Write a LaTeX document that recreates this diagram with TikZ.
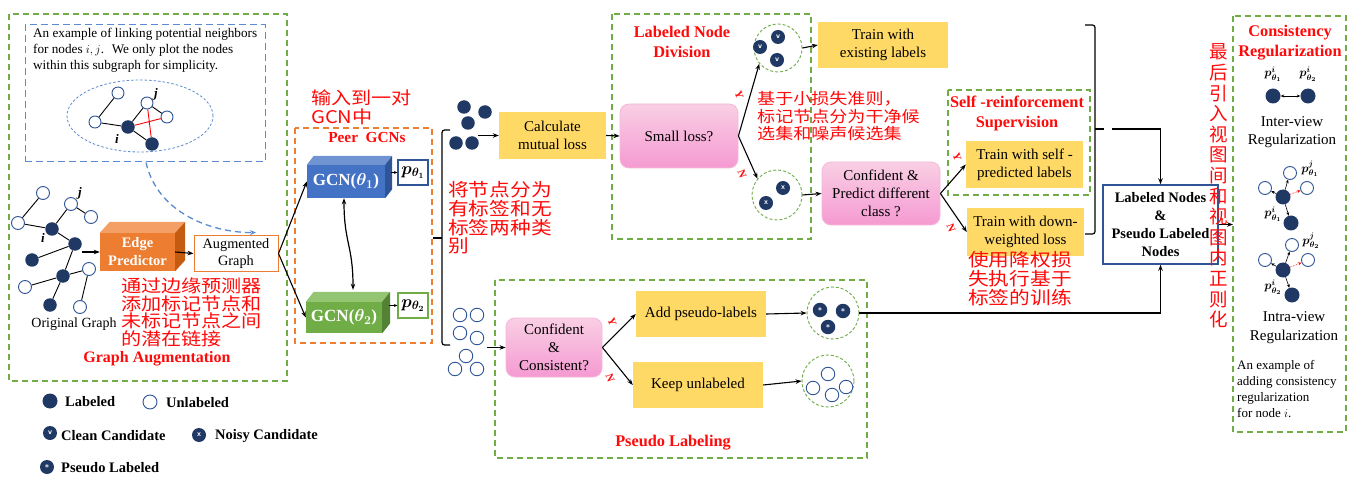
\documentclass[tikz,border=0pt]{standalone}
\usepackage{fontspec}
\setmainfont{Liberation Serif}
\newfontfamily\cjk[FakeStretch=1.15]{Noto Sans CJK SC}
\newfontfamily\cjkv{Noto Sans CJK SC}
\usepackage{amsmath}
\usepackage{bm}
\usetikzlibrary{arrows.meta,calc}
\newcommand{\fs}[2]{\fontsize{#1}{#2}\selectfont}
\newcommand{\cnf}[2]{\cjk\fontsize{#1}{#2}\selectfont\lineskiplimit=-50pt\lineskip=0pt}
\definecolor{grn}{HTML}{70AD47}
\definecolor{navy}{HTML}{203864}
\definecolor{blueE}{HTML}{2F5597}
\definecolor{ylw}{HTML}{FFD966}
\definecolor{pinkT}{HTML}{F9CFE4}
\definecolor{pinkB}{HTML}{F59AD2}
\definecolor{pinkE}{HTML}{F5B8D8}
\definecolor{orF}{HTML}{ED7D31}
\definecolor{orT}{HTML}{F39F66}
\definecolor{orS}{HTML}{C55A11}
\definecolor{bF}{HTML}{4472C4}
\definecolor{bT}{HTML}{7093D2}
\definecolor{bS}{HTML}{2F5597}
\definecolor{gF}{HTML}{70AD47}
\definecolor{gT}{HTML}{93C572}
\definecolor{gS}{HTML}{548235}
\definecolor{dashB}{HTML}{5B8BD0}
\definecolor{redt}{HTML}{FF0A0A}
\begin{document}
\begin{tikzpicture}[x=1pt,y=-1pt,
  gbox/.style={draw=grn, dash pattern=on 6pt off 4pt, line width=1.3pt},
  ybox/.style={fill=ylw, align=center, inner sep=0, font=\fs{15}{18}},
  pkbox/.style={rounded corners=9pt, top color=pinkT, bottom color=pinkB, draw=pinkE, line width=0.8pt, align=center, inner sep=0, font=\fs{15}{18}},
  lnode/.style={circle, fill=navy, inner sep=0, minimum size=13.5pt},
  unode/.style={circle, draw=blueE, fill=white, line width=0.9pt, inner sep=0, minimum size=13pt},
  cnode/.style={circle, fill=navy, inner sep=0, minimum size=14pt, text=white, font=\sffamily\bfseries\fs{8}{9}},
  dcirc/.style={circle, draw=grn, dash pattern=on 3pt off 2pt, line width=0.9pt, inner sep=0},
  arr/.style={-{Stealth[length=6pt,width=4.5pt]}, line width=1.1pt},
  sarr/.style={-{Stealth[length=3.5pt,width=3pt]}, line width=0.6pt},
  edge/.style={line width=0.9pt},
  ttl/.style={text=redt, font=\bfseries\fs{16.3}{20}, align=center, inner sep=0},
  cn/.style={text=redt, align=left, inner sep=0},
  lbl/.style={font=\bfseries\fs{14.5}{16}, anchor=west, inner sep=0},
  txt/.style={align=center, inner sep=0, font=\fs{15}{18}},
  plab/.style={font=\fs{12}{14}, inner sep=0},
  yn/.style={text=redt, font=\bfseries\fs{11}{12}, inner sep=0, rotate=-70}]
\useasboundingbox[fill=white] (0,0) rectangle (1351,478);

% ===== Graph Augmentation =====
\draw[gbox] (9,14) rectangle (287,381);
\node[draw=dashB, dash pattern=on 7pt off 4pt, line width=1pt, minimum width=240pt, minimum height=137pt, inner sep=0] (exbox) at (145,93.5) {};
\node[anchor=west, align=left, font=\fs{13.2}{16}, inner sep=0] (extxt) at (33,50) {An example of linking potential neighbors\\for nodes $i,j$.~ We only plot the nodes\\within this subgraph for simplicity.};
\draw[dashB, dash pattern=on 2.5pt off 2pt, line width=0.8pt] (140,116) ellipse [x radius=73pt, y radius=36pt];
\node[unode, minimum size=12pt] (e1) at (118,93) {};
\node[unode, minimum size=12pt] (e2) at (95,122) {};
\node[lnode] (e3) at (128,127) {};
\node[unode, minimum size=12pt] (e4) at (147,103) {};
\node[unode, minimum size=12pt] (e5) at (167,117) {};
\node[lnode] (e6) at (152,144) {};
\draw[edge] (e1)--(e2) (e2)--(e3) (e3)--(e4) (e4)--(e5) (e3)--(e6);
\draw[edge, red] (e3)--(e5) (e4)--(e6);
\node[font=\bfseries\itshape\fs{13}{14}, inner sep=0] (li1) at (117,139) {i};
\node[font=\bfseries\itshape\fs{13}{14}, inner sep=0] (lj1) at (156,94) {j};

\node[unode] (o1) at (43,193) {};
\node[unode] (o2) at (71,204) {};
\node[unode] (o3) at (91,217) {};
\node[unode] (o4) at (18,223) {};
\node[lnode] (f1) at (52,229) {};
\node[lnode] (f2) at (75,244) {};
\node[lnode] (f3) at (32,260) {};
\node[lnode] (f4) at (63,276) {};
\node[unode] (o5) at (89,269) {};
\node[unode] (o6) at (25,287) {};
\node[lnode] (f5) at (50,305) {};
\node[unode] (o7) at (80,307) {};
\draw[edge] (o1)--(o4) (o4)--(f1) (f1)--(o2) (o2)--(o3) (f1)--(f2) (f2)--(f3) (f2)--(f4) (f4)--(o5) (f4)--(o6) (f4)--(f5) (o5)--(o7);
\node[font=\bfseries\itshape\fs{13}{14}, inner sep=0] (li2) at (43,238) {i};
\node[font=\bfseries\itshape\fs{13}{14}, inner sep=0] (lj2) at (80,193) {j};
\node[font=\fs{14}{16}, inner sep=0] (og) at (74,324) {Original Graph};

% Edge predictor cuboid
\node[fill=orF, minimum width=75pt, minimum height=38pt, inner sep=0, text=white, align=center, font=\bfseries\fs{14.5}{18}] (ep) at (137.5,252) {Edge\\Predictor};
\fill[orT] (ep.north west) -- ++(10,-11) -- ([shift={(10,-11)}]ep.north east) -- (ep.north east) -- cycle;
\fill[orS] (ep.north east) -- ++(10,-11) -- ([shift={(10,-11)}]ep.south east) -- (ep.south east) -- cycle;
\node[draw=orF, line width=1pt, fill=white, minimum width=84pt, minimum height=35pt, inner sep=0, align=center, font=\fs{14.3}{17}] (aug) at (236,253.5) {Augmented\\Graph};
\draw[arr] (f2.east |- ep.west) -- (ep.west);
\draw[arr] (ep.east) -- (aug.west);
\draw[dashB, dash pattern=on 6pt off 4pt, line width=1.3pt, -{Stealth[length=6pt,width=5pt]}] ([xshift=1pt]exbox.south) .. controls (158,215) and (215,233) .. ([shift={(20,-3)}]aug.north);

\node[text=redt, font=\bfseries\fs{16}{18}, inner sep=0] (tga) at (157,359) {Graph Augmentation};

% ===== Peer GCNs =====
\draw[draw=orF, dash pattern=on 6pt off 4pt, line width=1.3pt] (295,128) rectangle (432,343);
\node[text=redt, font=\bfseries\fs{15.3}{18}, inner sep=0] (tpg) at (367,138) {Peer~~GCNs};
\node[fill=bF, minimum width=78pt, minimum height=33pt, inner sep=0, text=white, font=\bfseries\fs{17}{19}] (g1) at (346,181.5) {GCN($\bm{\theta_1}$)};
\fill[bT] (g1.north west) -- ++(7,-9) -- ([shift={(7,-9)}]g1.north east) -- (g1.north east) -- cycle;
\fill[bS] (g1.north east) -- ++(7,-9) -- ([shift={(7,-9)}]g1.south east) -- (g1.south east) -- cycle;
\node[fill=gF, minimum width=76pt, minimum height=31pt, inner sep=0, text=white, font=\bfseries\fs{17}{19}] (g2) at (344,317.5) {GCN($\bm{\theta_2}$)};
\fill[gT] (g2.north west) -- ++(8,-10) -- ([shift={(8,-10)}]g2.north east) -- (g2.north east) -- cycle;
\fill[gS] (g2.north east) -- ++(8,-10) -- ([shift={(8,-10)}]g2.south east) -- (g2.south east) -- cycle;
\node[draw=blueE, line width=1.3pt, fill=white, minimum width=30pt, minimum height=25pt, inner sep=0, font=\fs{16.5}{18}] (pt1) at (413,172.5) {$\bm{p_{\theta_1}}$};
\node[draw=grn, line width=1.3pt, fill=white, minimum width=30pt, minimum height=25pt, inner sep=0, font=\fs{16.5}{18}] (pt2) at (413,305.5) {$\bm{p_{\theta_2}}$};
\draw[sarr, line width=0.8pt] ([xshift=6pt]g1.east |- pt1.west) -- (pt1.west);
\draw[sarr, line width=0.8pt] ([xshift=7pt]g2.east |- pt2.west) -- (pt2.west);
\draw[{Stealth[length=6pt,width=4.5pt]}-{Stealth[length=6pt,width=4.5pt]}, line width=1.2pt] ([xshift=-2pt]g1.south) .. controls +(0,45) and +(0,-45) .. ([shift={(9,-12)}]g2.north);
\draw[arr] (aug.east) -- (g1.west);
\draw[arr] (aug.east) -- (g2.west);

% left brace
\draw[line width=1.2pt, rounded corners=2.5pt] (450,130) -- (442,130) -- (442,345) -- (450,345);
\draw[line width=1.2pt] (442,238) -- (433,238);

% labeled cluster
\node[lnode] (c1) at (464,107) {};
\node[lnode] (c2) at (485,112) {};
\node[lnode] (c3) at (468,123) {};
\node[lnode] (c4) at (456,143) {};
\node[lnode] (c5) at (472,143) {};
% unlabeled cluster
\node[unode, minimum size=13.5pt] (u1) at (460,315) {};
\node[unode, minimum size=13.5pt] (u2) at (477,315) {};
\node[unode, minimum size=13.5pt] (u3) at (460,333) {};
\node[unode, minimum size=13.5pt] (u4) at (477,338) {};
\node[unode, minimum size=13.5pt] (u5) at (466,356) {};
\node[unode, minimum size=13.5pt] (u6) at (455,369) {};
\node[unode, minimum size=13.5pt] (u7) at (477,369) {};

\node[ybox, minimum width=107pt, minimum height=47pt] (calc) at (552.5,135.5) {Calculate\\mutual loss};
\draw[arr] ([xshift=-21pt]calc.west) -- (calc.west);

% ===== Labeled Node Division =====
\draw[gbox] (612,14) rectangle (811,239);
\node[ttl] (tlnd) at (682,42) {Labeled Node\\Division};
\node[pkbox, minimum width=118pt, minimum height=64pt] (small) at (679,136) {Small loss?};
\draw[arr] (calc.east) -- (small.west);
\node[dcirc, minimum size=48pt] (cc) at (778,48) {};
\node[cnode] (k1) at (778,37) {v};
\node[cnode] (k2) at (777,60) {v};
\node[cnode] (k3) at (760,47) {v};
\node[dcirc, minimum size=50pt] (nc) at (777,195) {};
\node[cnode] (n1) at (783,188) {x};
\node[cnode] (n2) at (766,203) {x};
\draw[arr] (small.east) -- (cc.-140);
\draw[arr] (small.east) -- (nc.140);
\node[yn] (y1) at (739,95) {Y};
\node[yn] (n1l) at (742,174) {N};
\node[ybox, minimum width=130pt, minimum height=46pt] (tr1) at (883,45) {Train with\\existing labels};
\draw[arr] (cc.east) -- (tr1.west);
\node[pkbox, minimum width=118pt, minimum height=63pt] (conf1) at (881,193.5) {Confident \&\\Predict different\\class ?};
\draw[arr] (nc.east) -- (conf1.west);

% ===== Self-reinforcement =====
\draw[gbox] (948,90) rectangle (1090,195);
\node[ttl] (tsrs) at (1017,113) {Self -reinforcement\\Supervision};
\node[ybox, minimum width=117pt, minimum height=47pt] (tr2) at (1024.5,164.5) {Train with self -\\predicted labels};
\node[ybox, minimum width=117pt, minimum height=48pt] (tr3) at (1025.5,232) {Train with down-\\weighted loss};
\draw[arr] (conf1.east) -- (tr2.west);
\draw[arr] (conf1.east) -- (tr3.west);
\node[yn] (y2) at (957,157) {Y};
\node[yn] (n2l) at (951,228) {N};

% right brace
\draw[line width=1.2pt, rounded corners=2.5pt] (1085,25) -- (1095,25) -- (1095,234) -- (1085,234);
\draw[line width=1.2pt] (1095,129) -- (1104,129);
\coordinate (rb) at (1112,129);

\node[draw=blueE, line width=1.5pt, fill=white, minimum width=115pt, minimum height=79pt, align=center, font=\bfseries\fs{14.5}{18}, inner sep=0] (lnb) at (1160.5,224.5) {Labeled Nodes\\\&\\Pseudo Labeled\\Nodes};
\draw[arr] (rb) -| (lnb.north);

% ===== Pseudo Labeling =====
\draw[gbox] (495,280) rectangle (867,458);
\node[text=redt, font=\bfseries\fs{16.3}{18}, inner sep=0] (tpl) at (673,443) {Pseudo Labeling};
\node[pkbox, minimum width=96pt, minimum height=59pt] (conf2) at (554,347.5) {Confident\\\&\\Consistent?};
\draw[arr] ([xshift=-19pt]conf2.west) -- (conf2.west);
\node[ybox, minimum width=130pt, minimum height=46pt] (add) at (701,314) {Add pseudo-labels};
\node[ybox, minimum width=130pt, minimum height=46pt] (keep) at (698,385) {Keep unlabeled};
\draw[arr] (conf2.east) -- (add.west);
\draw[arr] (conf2.east) -- (keep.west);
\node[yn] (y3) at (612,322) {Y};
\node[yn] (n3l) at (610,378) {N};
\node[dcirc, minimum size=52pt] (pc) at (833,313) {};
\node[cnode, minimum size=14.5pt] (s1) at (820,310) {*};
\node[cnode, minimum size=14.5pt] (s2) at (843,311) {*};
\node[cnode, minimum size=14.5pt] (s3) at (828,327) {*};
\node[dcirc, minimum size=52pt] (uc) at (828,381) {};
\node[unode, minimum size=13.5pt] (w1) at (828,374) {};
\node[unode, minimum size=13.5pt] (w2) at (813,388) {};
\node[unode, minimum size=13.5pt] (w3) at (832,395) {};
\node[unode, minimum size=13.5pt] (w4) at (846,387) {};
\draw[arr] (add.east) -- (pc.west);
\draw[arr] (keep.east) -- (uc.west);
\draw[arr] (pc.east) -| (lnb.south);

% ===== Consistency Regularization =====
\draw[gbox] (1233,16) rectangle (1346,432);
\coordinate (crw) at (1233,224.5);
\draw[arr] (lnb.east) -- (crw);
\node[ttl] (tcr) at (1290,42.5) {Consistency\\Regularization};
\node[plab] (q1) at (1273,74) {$\bm{p^{i}_{\theta_1}}$};
\node[plab] (q2) at (1308,74) {$\bm{p^{i}_{\theta_2}}$};
\node[lnode, minimum size=15pt] (v1) at (1273,96) {};
\node[lnode, minimum size=15pt] (v2) at (1308,96) {};
\draw[{Stealth[length=3.5pt,width=3pt]}-{Stealth[length=3.5pt,width=3pt]}, line width=0.6pt] (v1) -- (v2);
\node[txt] (iv) at (1292,132) {Inter-view\\Regularization};

\node[lnode, minimum size=15pt] (a0) at (1283,197) {};
\node[lnode, minimum size=15pt] (a1) at (1291,223) {};
\node[unode, minimum size=13pt] (a2) at (1290,173) {};
\node[unode, minimum size=13pt] (a3) at (1265,188) {};
\node[unode, minimum size=13pt] (a4) at (1307,188) {};
\draw[sarr] (a0) -- (a1);
\draw[sarr] (a0) -- (a2);
\draw[sarr] (a0) -- (a3);
\draw[sarr, red, densely dotted] (a0) -- (a4);
\node[plab] (qa) at (1310,169) {$\bm{p^{j}_{\theta_1}}$};
\node[plab] (qb) at (1273,214) {$\bm{p^{i}_{\theta_1}}$};

\node[lnode, minimum size=15pt] (b0) at (1283,270) {};
\node[lnode, minimum size=15pt] (b1) at (1292,295) {};
\node[unode, minimum size=13pt] (b2) at (1292,245) {};
\node[unode, minimum size=13pt] (b3) at (1265,260) {};
\node[unode, minimum size=13pt] (b4) at (1308,260) {};
\draw[sarr] (b0) -- (b1);
\draw[sarr] (b0) -- (b2);
\draw[sarr] (b0) -- (b3);
\draw[sarr, red, densely dotted] (b0) -- (b4);
\node[plab] (qc) at (1311,241) {$\bm{p^{j}_{\theta_2}}$};
\node[plab] (qd) at (1273,287) {$\bm{p^{i}_{\theta_2}}$};
\node[txt, font=\fs{15}{19}] (rv) at (1294,327.5) {Intra-view\\Regularization};
\node[anchor=west, align=left, font=\fs{13}{16}, inner sep=0] (crtxt) at (1237,389.5) {An example of\\adding consistency\\regularization\\for node $i$.};

% ===== Legend =====
\node[lnode, minimum size=15pt] (lg1) at (50,401) {};
\node[lbl] (lt1) at (65,402) {Labeled};
\node[unode, minimum size=14pt] (lg2) at (150,402) {};
\node[lbl] (lt2) at (166,403) {Unlabeled};
\node[cnode, minimum size=14pt] (lg3) at (50,433) {v};
\node[lbl] (lt3) at (61,436) {Clean Candidate};
\node[cnode, minimum size=14pt] (lg4) at (199,435) {x};
\node[lbl] (lt4) at (215,436) {Noisy Candidate};
\node[cnode, minimum size=14pt] (lg5) at (47,467) {*};
\node[lbl] (lt5) at (61,468) {Pseudo Labeled};

% ===== Chinese annotations =====
\node[cn, font=\cnf{17.5}{17.7}, anchor=west] (cnA) at (121,312.5) {通过边缘预测器\\添加标记节点和\\未标记节点之间\\的潜在链接};
\node[cn, font=\cnf{17.5}{19}, anchor=west] (cnB) at (311,107.5) {输入到一对\\GCN中};
\node[cn, font=\cnf{18}{18.7}, anchor=west] (cnC) at (448,218) {将节点分为\\有标签和无\\标签两种类\\别};
\node[cn, font=\cnf{15.7}{17.5}, anchor=west] (cnD) at (757,116.5) {基于小损失准则，\\标记节点分为干净候\\选集和噪声候选集};
\node[cn, font=\cnf{18}{19}, anchor=west] (cnE) at (968,279) {使用降权损\\失执行基于\\标签的训练};
\node[cn, align=center, font={\cjkv\fontsize{18.5}{20.6}\selectfont\lineskiplimit=-50pt\lineskip=0pt}] (cnV) at (1219,186) {最\\后\\引\\入\\视\\图\\间\\和\\视\\图\\内\\正\\则\\化};
\end{tikzpicture}
\end{document}
